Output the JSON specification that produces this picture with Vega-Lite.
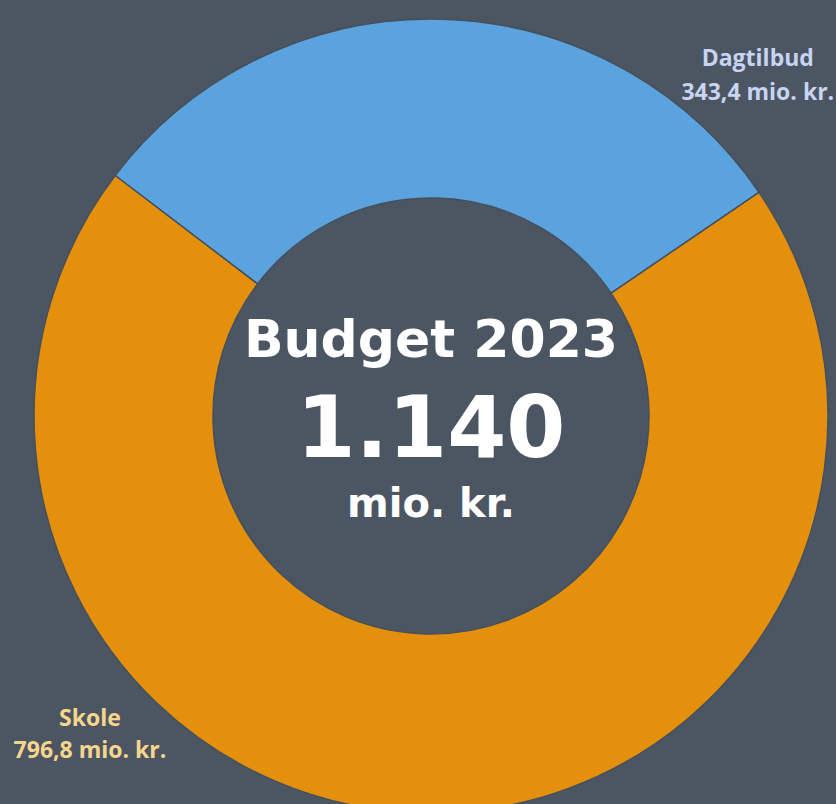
{
  "$schema": "https://vega.github.io/schema/vega-lite/v6.json",
  "width": 800,
  "height": 776,
  "autosize": {"type": "none"},
  "padding": {"left": 31, "top": 28, "right": 5, "bottom": 0},
  "background": "#4b5662",
  "config": {"view": {"stroke": null}},
  "layer": [
    {
      "data": {"values": [
        {"kategori": "Dagtilbud", "beloeb": 343.4, "etiket": "343,4 mio. kr."},
        {"kategori": "Skole", "beloeb": 796.8, "etiket": "796,8 mio. kr."}
      ]},
      "layer": [
        {
          "mark": {"type": "arc", "outerRadius": 397, "innerRadius": 218, "stroke": "#46505b", "strokeWidth": 1.5},
          "encoding": {
            "theta": {"field": "beloeb", "type": "quantitative", "stack": true, "scale": {"range": [-0.92, 5.3632]}},
            "color": {"field": "kategori", "type": "nominal", "legend": null,
              "scale": {"domain": ["Dagtilbud", "Skole"], "range": ["#5ba3df", "#e4900c"]}},
            "order": {"field": "kategori", "sort": "ascending"}
          }
        },
        {
          "transform": [{"filter": "datum.kategori === 'Dagtilbud'"}],
          "mark": {"type": "text", "radius": 484, "thetaOffset": 0.715, "font": "Open Sans", "fontWeight": "bold", "fontSize": 23, "lineHeight": 34, "baseline": "middle", "align": "center", "color": "#c7d4f2"},
          "encoding": {
            "theta": {"field": "beloeb", "type": "quantitative", "stack": true},
            "detail": {"field": "kategori"},
            "text": {"value": ["Dagtilbud", "343,4 mio. kr."]}
          }
        },
        {
          "transform": [{"filter": "datum.kategori === 'Skole'"}],
          "mark": {"type": "text", "radius": 456, "thetaOffset": 2.711, "font": "Open Sans", "fontWeight": "bold", "fontSize": 23, "lineHeight": 32, "baseline": "middle", "align": "center", "color": "#f7d58d"},
          "encoding": {
            "theta": {"field": "beloeb", "type": "quantitative", "stack": true},
            "detail": {"field": "kategori"},
            "text": {"value": ["Skole", "796,8 mio. kr."]}
          }
        }
      ]
    },
    {
      "data": {"values": [{"t": "Budget 2023"}]},
      "mark": {"type": "text", "font": "DejaVu Sans", "fontWeight": "bold", "fontSize": 52, "baseline": "alphabetic", "align": "center", "dy": -59, "color": "#ffffff"},
      "encoding": {"text": {"field": "t"}}
    },
    {
      "data": {"values": [{"t": "1.140"}]},
      "mark": {"type": "text", "font": "DejaVu Sans", "fontWeight": "bold", "fontSize": 85, "baseline": "alphabetic", "align": "center", "dy": 41, "color": "#ffffff"},
      "encoding": {"text": {"field": "t"}}
    },
    {
      "data": {"values": [{"t": "mio. kr."}]},
      "mark": {"type": "text", "font": "DejaVu Sans", "fontWeight": "bold", "fontSize": 40, "baseline": "alphabetic", "align": "center", "dy": 101, "color": "#ffffff"},
      "encoding": {"text": {"field": "t"}}
    }
  ]
}
